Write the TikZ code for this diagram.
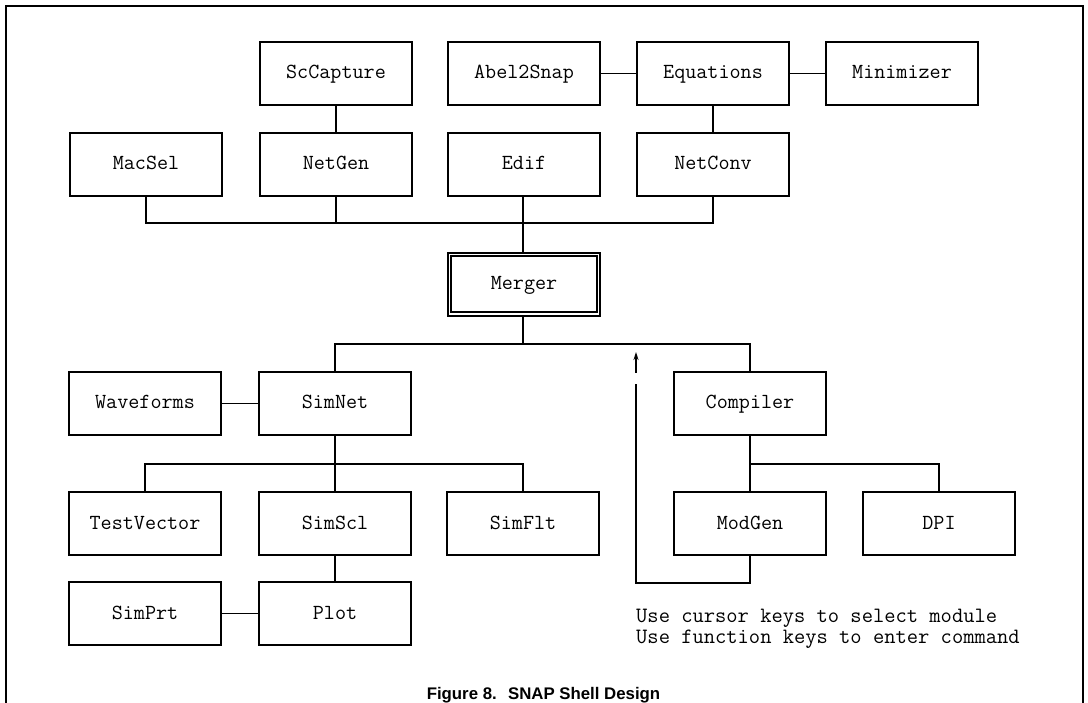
\documentclass[tikz,border=0pt]{standalone}
\usepackage{fontspec}
\newfontfamily\monof{Latin Modern Mono}
\newfontfamily\capf{Liberation Sans}
\usetikzlibrary{arrows.meta}
\tikzset{
  modbox/.style={draw, line width=2pt, minimum width=152pt, minimum height=63pt, inner sep=0pt,
    text height=14pt, text depth=3pt,
    font=\monof\fontsize{21.5}{24}\selectfont},
  wire/.style={line width=1.6pt},
  notetext/.style={anchor=base west, inner sep=0pt, font=\monof\fontsize{21.9}{24}\selectfont},
}
\begin{document}
\begin{tikzpicture}[x=1pt,y=-1pt]
\useasboundingbox (0,0) rectangle (1088,703);
% frame
\draw[line width=1.6pt] (6,703) -- (6,6) -- (1083,6) -- (1083,703);
% row 1
\node[modbox] (ScCapture) at (336,73.5) {ScCapture};
\node[modbox] (Abel2Snap) at (524,73.5) {Abel2Snap};
\node[modbox] (Equations) at (713,73.5) {Equations};
\node[modbox] (Minimizer) at (902,73.5) {Minimizer};
% row 2
\node[modbox] (MacSel) at (146,164.5) {MacSel};
\node[modbox] (NetGen) at (336,164.5) {NetGen};
\node[modbox] (Edif) at (524,164.5) {Edif};
\node[modbox] (NetConv) at (713,164.5) {NetConv};
% merger
\node[modbox, line width=1.6pt] (Merger) at (524,284.5) {Merger};
\draw[line width=1.6pt] ([shift={(4,4)}]Merger.north west) rectangle ([shift={(-4,-5)}]Merger.south east);
% row 3
\node[modbox] (Waveforms) at (145,403.5) {Waveforms};
\node[modbox] (SimNet) at (335,403.5) {SimNet};
\node[modbox] (Compiler) at (750,403.5) {Compiler};
% row 4
\node[modbox] (TestVector) at (145,523.5) {TestVector};
\node[modbox] (SimScl) at (335,523.5) {SimScl};
\node[modbox] (SimFlt) at (523,523.5) {SimFlt};
\node[modbox] (ModGen) at (750,523.5) {ModGen};
\node[modbox] (DPI) at (939,523.5) {DPI};
% row 5
\node[modbox] (SimPrt) at (145,613.5) {SimPrt};
\node[modbox] (Plot) at (335,613.5) {Plot};
% bus coordinates
\coordinate (bus1) at (523,223);
\coordinate (bus2) at (523,344);
\coordinate (bus3) at (335,464);
\coordinate (bus4) at (750,464);
% top connectors
\draw[wire] (ScCapture.south) -- (NetGen.north);
\draw[wire] (Abel2Snap.east) -- (Equations.west);
\draw[wire] (Equations.east) -- (Minimizer.west);
\draw[wire] (Equations.south) -- (NetConv.north);
\draw[wire] (MacSel.south) |- (bus1) -| (NetConv.south);
\draw[wire] (NetGen.south) -- (NetGen.south |- bus1);
\draw[wire] (Edif.south -| bus1) -- (Merger.north -| bus1);
% lower connectors
\draw[wire] (Merger.south -| bus2) -- (bus2);
\draw[wire] (SimNet.north) |- (bus2) -| (Compiler.north);
\draw[wire] (Waveforms.east) -- (SimNet.west);
\draw[wire] (SimNet.south) -- (SimScl.north);
\draw[wire] (TestVector.north) |- (bus3) -| (SimFlt.north);
\draw[wire] (SimScl.south) -- (Plot.north);
\draw[wire] (SimPrt.east) -- (Plot.west);
\draw[wire] (Compiler.south) -- (ModGen.north);
\draw[wire] (bus4) -| (DPI.north);
% loop back arrow
\coordinate (loopc) at (636,583);
\coordinate (gapend) at (636,384);
\coordinate (arrowbase) at (636,373);
\coordinate (arrowtip) at (636,352);
\draw[wire] (ModGen.south) |- (loopc) -- (gapend);
\draw[wire, -{Stealth[length=8pt,width=5pt]}] (arrowbase) -- (arrowtip);
% note
\node[notetext] (note1) at (636,622) {Use cursor keys to select module};
\node[notetext] (note2) at (636,643) {Use function keys to enter command};
% caption
\node[anchor=base, inner sep=0pt, font=\capf\bfseries\fontsize{16.8}{18}\selectfont] (caption) at (543.5,699) {Figure 8.\hspace{0.3em} SNAP Shell Design};
\end{tikzpicture}
\end{document}
